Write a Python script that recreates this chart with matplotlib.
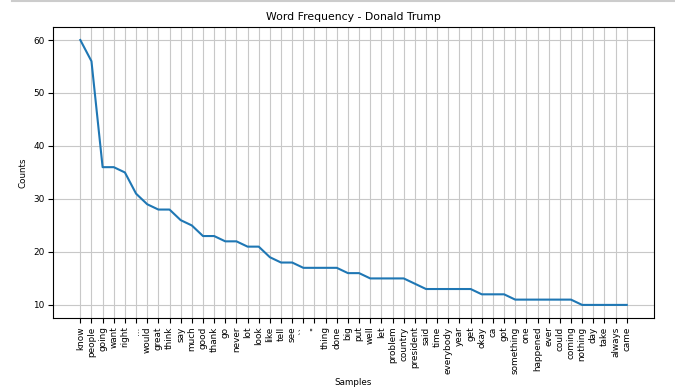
import matplotlib
matplotlib.use("Agg")
import matplotlib.pyplot as plt
from matplotlib.lines import Line2D

# top 50 words and their counts
words = ["know", "people", "going", "want", "right", "...", "would", "great", "think", "say",
         "much", "good", "thank", "go", "never", "lot", "look", "like", "tell", "see",
         "``", "''", "thing", "done", "big", "put", "well", "let", "problem", "country",
         "president", "said", "time", "everybody", "year", "get", "okay", "ca", "got", "something",
         "one", "happened", "ever", "could", "coming", "nothing", "day", "take", "always", "came"]
counts = [60, 56, 36, 36, 35, 31, 29, 28, 28, 26,
          25, 23, 23, 22, 22, 21, 21, 19, 18, 18,
          17, 17, 17, 17, 16, 16, 15, 15, 15, 15,
          14, 13, 13, 13, 13, 13, 12, 12, 12, 11,
          11, 11, 11, 11, 11, 10, 10, 10, 10, 10]

fig = plt.figure(figsize=(6.75, 3.88), dpi=100)
ax = fig.add_axes([0.0785, 0.180, 0.8905, 0.751])

ax.plot(range(len(words)), counts, color="#1f77b4", linewidth=1.5)
ax.grid(True, color="#c8c8c8")
ax.set_xticks(range(len(words)))
ax.set_xticklabels(words, rotation=90)
ax.tick_params(labelsize=6.4, pad=2.5)
ax.set_title("Word Frequency - Donald Trump", fontsize=7.8, pad=5)
ax.set_xlabel("Samples", fontsize=6.3, labelpad=3)
ax.set_ylabel("Counts", fontsize=6.3, labelpad=4)

# thin grey rule across the top of the image
fig.add_artist(Line2D([12 / 675, 1], [0.998, 0.998], color="#cccccc", linewidth=1.5,
                      transform=fig.transFigure))

fig.savefig("out.png", dpi=100)
